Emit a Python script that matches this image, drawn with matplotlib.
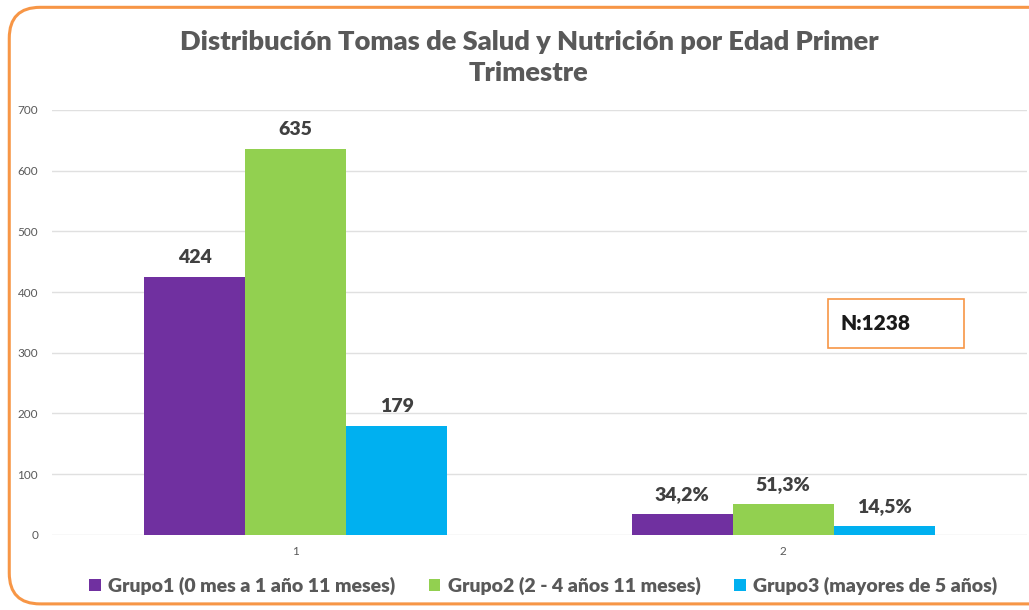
import matplotlib.pyplot as plt
import numpy as np
from matplotlib.patches import FancyBboxPatch, Rectangle

# datos
categorias = ["1", "2"]
grupos = ["Grupo1 (0 mes a 1 año 11 meses)",
          "Grupo2 (2 - 4 años 11 meses)",
          "Grupo3 (mayores de 5 años)"]
valores = [[424, 34.2], [635, 51.3], [179, 14.5]]
etiquetas = [["424", "34,2%"], ["635", "51,3%"], ["179", "14,5%"]]
colores = ["#7030A0", "#92D050", "#00B0F0"]
titulo = "Distribución Tomas de Salud y Nutrición por Edad Primer\nTrimestre"

plt.rcParams['font.family'] = ['Lato', 'DejaVu Sans']

fig = plt.figure(figsize=(10.29, 6.10), dpi=100)
ax = fig.add_axes([0.0505, 0.123, 0.9475, 0.697])

x = np.arange(1, len(categorias) + 1)
ancho = 0.207
for i, (vals, col) in enumerate(zip(valores, colores)):
    pos = x + (i - 1) * ancho
    barras = ax.bar(pos, vals, width=ancho, color=col, label=grupos[i], zorder=3)
    for b, txt in zip(barras, etiquetas[i]):
        ax.annotate(txt, (b.get_x() + b.get_width() / 2, b.get_height()),
                    xytext=(0, 8), textcoords="offset points", ha="center", va="bottom",
                    fontsize=14, fontweight="heavy", color="#404040")

ax.set_xlim(0.5, 2.5)
ax.set_ylim(0, 700)
ax.set_yticks(range(0, 701, 100))
ax.set_xticks(x)
ax.set_xticklabels(categorias)
ax.grid(axis="y", color="#e0e0e0", linewidth=1, zorder=0)
for s in ax.spines.values():
    s.set_visible(False)
ax.tick_params(length=0, labelsize=8.5, colors="#595959", pad=10)
ax.tick_params(axis="x", pad=8)

fig.text(0.514, 0.906, titulo, ha="center", va="center", fontsize=19.6,
         fontweight="heavy", color="#595959", linespacing=1.35)

leg = fig.legend(loc="center", bbox_to_anchor=(0.528, 0.04), ncol=3, frameon=False,
                 handlelength=0.6, handleheight=0.6, handletextpad=0.4,
                 columnspacing=1.7, prop=dict(size=14, weight="heavy"))
for t in leg.get_texts():
    t.set_color("#595959")

# recuadro N
fig.patches.append(Rectangle((828 / 1029, 1 - 348 / 610), 136 / 1029, 49 / 610,
                             transform=fig.transFigure, facecolor="white",
                             edgecolor="#F79646", linewidth=1.2, zorder=5))
fig.text(840 / 1029, 1 - 323 / 610, "N:1238", ha="left", va="center", fontsize=15,
         fontweight="heavy", color="#1a1a1a", zorder=6)

# borde naranja redondeado
borde = FancyBboxPatch((0.009, 0.01), 1.2, 0.978, boxstyle="round,pad=0,rounding_size=0.03",
                       transform=fig.transFigure, fill=False, edgecolor="#F79646",
                       linewidth=2.2, mutation_aspect=1.69)
fig.patches.append(borde)

fig.savefig("out.png", dpi=100)
